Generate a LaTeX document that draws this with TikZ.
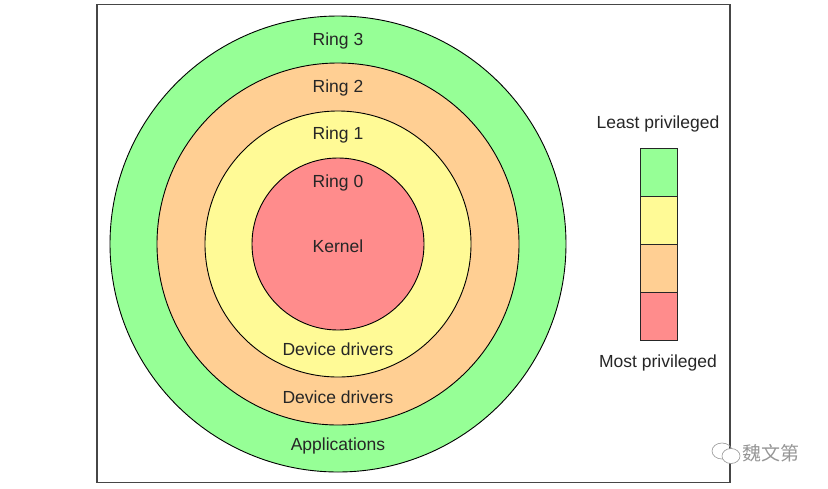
\documentclass[tikz,border=0pt]{standalone}
\usepackage{fontspec}
\setmainfont{Liberation Sans}
\newfontfamily\cjkfont{Noto Sans CJK SC}
\definecolor{ringgreen}{RGB}{150,255,150}
\definecolor{ringyellow}{RGB}{255,250,150}
\definecolor{ringorange}{RGB}{255,207,147}
\definecolor{ringred}{RGB}{255,140,140}
\definecolor{framegray}{RGB}{70,70,70}
\definecolor{wmgray}{RGB}{150,150,150}
\tikzset{
  ring/.style={draw=black, line width=0.9pt},
  lbl/.style={font=\fontsize{17.5}{19}\selectfont, text=black!85, inner sep=0pt},
  legendbox/.style={draw=black!85, line width=0.9pt, minimum width=37pt, minimum height=48pt, inner sep=0pt, outer sep=0pt},
}
\begin{document}
\begin{tikzpicture}[x=1pt,y=-1pt]
\useasboundingbox (0,0) rectangle (828,488);
\node[draw=framegray, line width=1.3pt, minimum width=633pt, minimum height=478pt, inner sep=0pt] (frame) at (413.5,243.5) {};
% rings
\node[ring, circle, fill=ringgreen, minimum size=456pt, inner sep=0pt] (r3) at (338,244) {};
\node[ring, circle, fill=ringorange, minimum size=362pt, inner sep=0pt] (r2) at (338,244) {};
\node[ring, circle, fill=ringyellow, minimum size=266pt, inner sep=0pt] (r1) at (338,244) {};
\node[ring, circle, fill=ringred, minimum size=172pt, inner sep=0pt] (r0) at (338,244) {};
% labels
\node[lbl] (t3) at (338,41) {Ring 3};
\node[lbl] (t2) at (338,88) {Ring 2};
\node[lbl] (t1) at (338,135) {Ring 1};
\node[lbl] (t0) at (338,183) {Ring 0};
\node[lbl] (k) at (338,246) {Kernel};
\node[lbl] (d1) at (338,349) {Device drivers};
\node[lbl] (d2) at (338,397) {Device drivers};
\node[lbl] (ap) at (338,446) {Applications};
% legend
\node[lbl] (least) at (658,124) {Least privileged};
\node[legendbox, fill=ringgreen] (lg) at (658.5,172) {};
\node[legendbox, fill=ringyellow, anchor=north] (ly) at (lg.south) {};
\node[legendbox, fill=ringorange, anchor=north] (lo) at (ly.south) {};
\node[legendbox, fill=ringred, anchor=north] (lr) at (lo.south) {};
\node[lbl] (most) at (658,363) {Most privileged};
% watermark
\draw[wmgray, line width=0.6pt] (722,451) ellipse (10pt and 8pt);
\draw[wmgray, line width=0.6pt, fill=white] (731,456) ellipse (9pt and 7.5pt);
\node[font=\cjkfont\fontsize{19}{20}\selectfont, text=wmgray, inner sep=0pt] (wm) at (771,453) {魏文第};
\end{tikzpicture}
\end{document}
